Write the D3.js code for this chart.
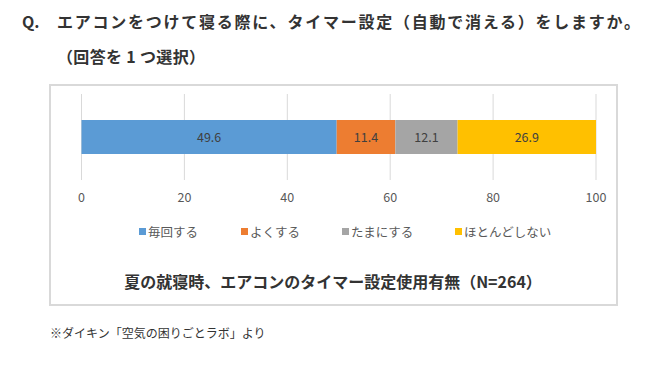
<!DOCTYPE html>
<html><head><meta charset="utf-8">
<script src="https://cdn.jsdelivr.net/npm/d3@7"></script>
<style>body{margin:0;background:#fff}svg{display:block}</style>
</head><body>
<script>
const categories = ["毎回する","よくする","たまにする","ほとんどしない"];
const values = [49.6, 11.4, 12.1, 26.9];
const colors = ["#5B9BD5","#ED7D31","#A5A5A5","#FFC000"];
const tickValues = [0,20,40,60,80,100];
const titleLine1 = "エアコンをつけて寝る際に、タイマー設定（自動で消える）をしますか。";
const titleLine2 = "（回答を 1 つ選択）";
const chartTitle = "夏の就寝時、エアコンのタイマー設定使用有無（N=264）";
const footnote = "※ダイキン「空気の困りごとラボ」より";

const W=658,H=378;
const font = "'Noto Sans CJK JP', sans-serif";
const svg = d3.select("body").append("svg").attr("width",W).attr("height",H);
svg.append("rect").attr("width",W).attr("height",H).attr("fill","#fff");

svg.append("text").attr("x",22).attr("y",28).attr("font-family",font).attr("font-weight","bold")
  .attr("font-size",16).attr("fill","#333").text("Q.");
svg.append("text").attr("x",57).attr("y",28).attr("font-family",font).attr("font-weight","bold")
  .attr("font-size",16).attr("fill","#333").attr("textLength",583).attr("lengthAdjust","spacing").text(titleLine1);
svg.append("text").attr("x",57).attr("y",63).attr("font-family",font).attr("font-weight","bold")
  .attr("font-size",16).attr("fill","#333").attr("textLength",148).attr("lengthAdjust","spacing").text(titleLine2);

// chart box
svg.append("rect").attr("x",50).attr("y",85).attr("width",567).attr("height",220)
  .attr("fill","#fff").attr("stroke","#D9D9D9").attr("stroke-width",2);

const x = d3.scaleLinear().domain([0,100]).range([81.5,596]);
const gTicks = svg.append("g");
gTicks.selectAll("line").data(tickValues).join("line")
  .attr("x1",d=>x(d)).attr("x2",d=>x(d)).attr("y1",94).attr("y2",180)
  .attr("stroke","#D9D9D9").attr("stroke-width",1);
gTicks.selectAll("text").data(tickValues).join("text")
  .attr("x",d=>x(d)).attr("y",202).attr("text-anchor","middle")
  .attr("font-family",font).attr("font-size",12.5).attr("fill","#595959").text(d=>d);

const stacked = [];
let acc=0;
values.forEach((v,i)=>{stacked.push({start:acc,end:acc+v,v,c:colors[i]});acc+=v;});
const y = d3.scaleBand().domain(["q"]).range([94,180]).paddingInner(0).paddingOuter(0.765);
const bars = svg.append("g");
bars.selectAll("rect").data(stacked).join("rect")
  .attr("x",d=>x(d.start)).attr("width",d=>x(d.end)-x(d.start))
  .attr("y",y("q")).attr("height",y.bandwidth()).attr("fill",d=>d.c);
bars.selectAll("text").data(stacked).join("text")
  .attr("x",d=>(x(d.start)+x(d.end))/2).attr("y",y("q")+y.bandwidth()/2+4.5)
  .attr("text-anchor","middle").attr("font-family",font).attr("font-size",12.5)
  .attr("fill","#404040").text(d=>d.v.toFixed(1));

// legend
const legendX=[139,241,342,455];
const lg = svg.append("g");
categories.forEach((c,i)=>{
  lg.append("rect").attr("x",legendX[i]).attr("y",228).attr("width",7).attr("height",7).attr("fill",colors[i]);
  lg.append("text").attr("x",legendX[i]+9).attr("y",236.5).attr("font-family",font).attr("font-size",12.5)
    .attr("fill","#595959").text(c);
});

svg.append("text").attr("x",333).attr("y",288).attr("text-anchor","middle").attr("font-family",font)
  .attr("font-weight","bold").attr("font-size",16).attr("fill","#333").text(chartTitle);

svg.append("text").attr("x",50).attr("y",338).attr("font-family",font).attr("font-size",12)
  .attr("fill","#333").text(footnote);
</script>
</body></html>
